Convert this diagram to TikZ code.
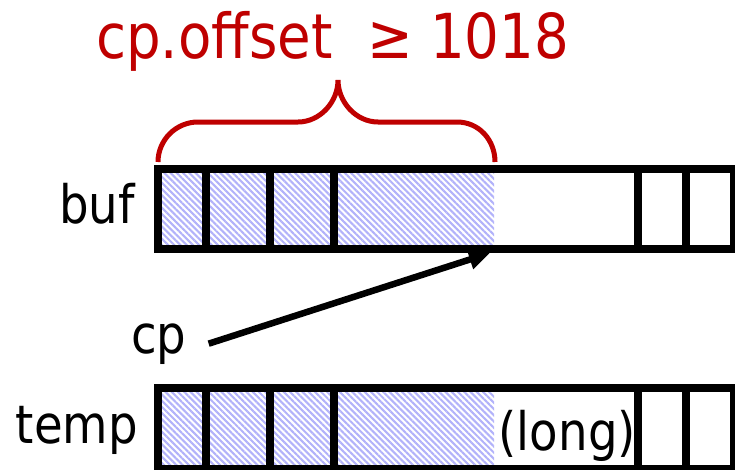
\documentclass[tikz,border=0pt]{standalone}
\usepackage{fontspec}
\setmainfont{DejaVu Sans}[FakeStretch=0.88]
\usetikzlibrary{arrows.meta, positioning, patterns.meta}
\definecolor{bracered}{rgb}{0.75,0.0,0.0}
\definecolor{hatchblue}{rgb}{0.70,0.70,0.98}

\begin{document}
\begin{tikzpicture}[x=1pt, y=-1pt,
  cellrow/.style={draw=black, line width=8.5pt},
  used/.style={pattern={Lines[angle=-45, distance=4.4pt, line width=2.1pt]},
               pattern color=hatchblue},
  lbl/.style={font=\fontsize{53}{60}\selectfont, inner sep=0pt},
  brace/.style={draw=bracered, line width=5pt},
  ptr/.style={draw=black, line width=6.5pt, -{Triangle[length=21pt, width=19pt]}}
]
  \useasboundingbox (0,0) rectangle (735,469);
  % the two buffers
  \fill[used] (162,173) rectangle (494,245);
  \fill[used] (162,392) rectangle (494,465);
  \draw[cellrow] (158,169) rectangle (734,249);
  \draw[cellrow] (158,388) rectangle (734,469);
  \foreach \x in {206,270,334,638,686} {
    \draw[cellrow] (\x,169) -- (\x,249);
    \draw[cellrow] (\x,388) -- (\x,469);
  }
  \node[lbl, anchor=base east] (buf) at (135,223) {buf};
  \node[lbl, anchor=base east] (temp) at (138,443) {temp};
  \node[lbl, anchor=base east] (long) at (636,450) {(long)};
  \node[lbl, anchor=base west] (cp) at (131,353) {cp};
  \coordinate (cpend) at (490,253);
  \draw[ptr] ([xshift=22pt]cp.east) -- (cpend);
  % offset brace
  \draw[brace] (158,162) .. controls (158,140) and (176,122) .. (198,122)
    -- (298,122) .. controls (320,122) and (338,102) .. (338,80)
    .. controls (338,102) and (356,122) .. (378,122)
    -- (457,122) .. controls (479,122) and (495,140) .. (495,162);
  \node[font=\fontsize{62}{70}\selectfont, text=bracered, inner sep=0pt,
        anchor=base west] (cond) at (96,58) {cp.offset\ \ ≥ 1018};
\end{tikzpicture}
\end{document}
